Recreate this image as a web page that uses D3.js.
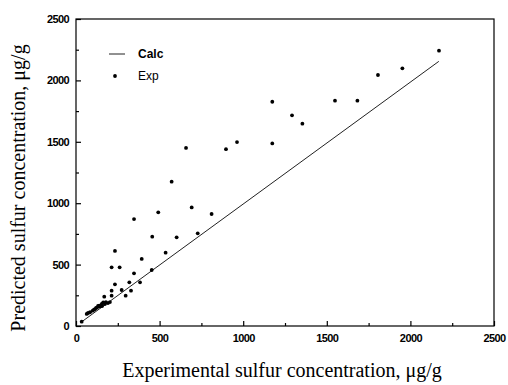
<!DOCTYPE html>
<html>
<head>
<meta charset="utf-8">
<script src="https://cdn.jsdelivr.net/npm/d3@7"></script>
<style>
  body { margin: 0; background: #fff; }
  .tick text { font-family: "Liberation Sans", Arial, sans-serif; font-weight: bold; font-size: 11px; letter-spacing: -0.6px; }
</style>
</head>
<body>
<div id="chart"></div>
<script>
// experimental vs predicted points
const expX = [34, 64, 72, 84, 100, 108, 114, 120, 127, 132, 139, 144, 154, 156, 163, 173, 179, 191, 203,
  169, 213, 213, 233, 273, 297, 319, 329, 383, 347, 453, 213, 261, 393, 233, 536, 456, 602, 728,
  347, 492, 692, 811, 572, 658, 897, 963, 1174, 1174, 1292, 1354, 1549, 1683, 1806, 1952, 2171];
const expY = [35, 98, 106, 112, 125, 134, 138, 147, 152, 163, 165, 159, 179, 163, 193, 179, 195, 187, 195,
  239, 247, 288, 339, 293, 247, 356, 288, 356, 429, 456, 478, 478, 546, 611, 597, 727, 722, 755,
  871, 926, 966, 912, 1175, 1450, 1440, 1498, 1487, 1826, 1716, 1648, 1835, 1835, 2044, 2098, 2242];
// calculated line
const calcX = [30, 2170];
const calcY = [30, 2155];
const tickValues = [0, 500, 1000, 1500, 2000, 2500];
const minorValues = [250, 750, 1250, 1750, 2250];

const width = 508;
const height = 385;
const margin = {left: 76, right: 14, top: 19, bottom: 59};

const svg = d3.select('#chart').append('svg')
  .attr('width', width)
  .attr('height', height);

const x = d3.scaleLinear().domain([0, 2500]).range([margin.left, width - margin.right]);
const y = d3.scaleLinear().domain([0, 2500]).range([height - margin.bottom, margin.top]);

// frame
svg.append('rect')
  .attr('x', x(0)).attr('y', y(2500))
  .attr('width', x(2500) - x(0)).attr('height', y(0) - y(2500))
  .attr('fill', 'none').attr('stroke', '#000').attr('stroke-width', 1.2);

const fmt = d3.format('d');

const xAxis = svg.append('g')
  .attr('transform', `translate(0,${y(0)})`)
  .call(d3.axisBottom(x).tickValues(tickValues).tickFormat(fmt).tickSize(-5).tickPadding(6));
xAxis.select('.domain').remove();
xAxis.selectAll('text').attr('dy', '0.9em');

svg.append('g')
  .attr('transform', `translate(0,${y(0)})`)
  .call(d3.axisBottom(x).tickValues(minorValues).tickSize(-3).tickFormat(''))
  .select('.domain').remove();

const yAxis = svg.append('g')
  .attr('transform', `translate(${x(0)},0)`)
  .call(d3.axisLeft(y).tickValues(tickValues).tickFormat(fmt).tickSize(-5).tickPadding(7));
yAxis.select('.domain').remove();

svg.append('g')
  .attr('transform', `translate(${x(0)},0)`)
  .call(d3.axisLeft(y).tickValues(minorValues).tickSize(-3).tickFormat(''))
  .select('.domain').remove();

svg.selectAll('.tick line').attr('stroke', '#000').attr('stroke-width', 1.2);

// Calc line
const calc = calcX.map((d, i) => [d, calcY[i]]);
svg.append('path')
  .datum(calc)
  .attr('d', d3.line().x(d => x(d[0])).y(d => y(d[1])))
  .attr('fill', 'none')
  .attr('stroke', '#222')
  .attr('stroke-width', 1);

// Exp points
svg.append('g').selectAll('circle')
  .data(expX.map((d, i) => [d, expY[i]]))
  .join('circle')
  .attr('cx', d => x(d[0]))
  .attr('cy', d => y(d[1]))
  .attr('r', 1.9)
  .attr('fill', '#000');

// legend
svg.append('line')
  .attr('x1', 109).attr('x2', 125).attr('y1', 54).attr('y2', 54)
  .attr('stroke', '#222').attr('stroke-width', 1);
svg.append('text')
  .text('Calc')
  .attr('x', 138).attr('y', 58)
  .attr('font-family', '"Liberation Sans", Arial, sans-serif')
  .attr('font-weight', 'bold')
  .attr('font-size', 12);
svg.append('circle')
  .attr('cx', 115).attr('cy', 76).attr('r', 1.9).attr('fill', '#000');
svg.append('text')
  .text('Exp')
  .attr('x', 138).attr('y', 80)
  .attr('font-family', '"Liberation Sans", Arial, sans-serif')
  .attr('font-size', 12);

// axis titles
svg.append('text')
  .text('Experimental sulfur concentration, μg/g')
  .attr('x', 282).attr('y', 377)
  .attr('text-anchor', 'middle')
  .attr('font-family', '"Liberation Serif", "Times New Roman", serif')
  .attr('font-size', 20);

svg.append('text')
  .text('Predicted sulfur concentration, μg/g')
  .attr('transform', 'translate(25,188) rotate(-90)')
  .attr('text-anchor', 'middle')
  .attr('font-family', '"Liberation Serif", "Times New Roman", serif')
  .attr('font-size', 20);
</script>
</body>
</html>
